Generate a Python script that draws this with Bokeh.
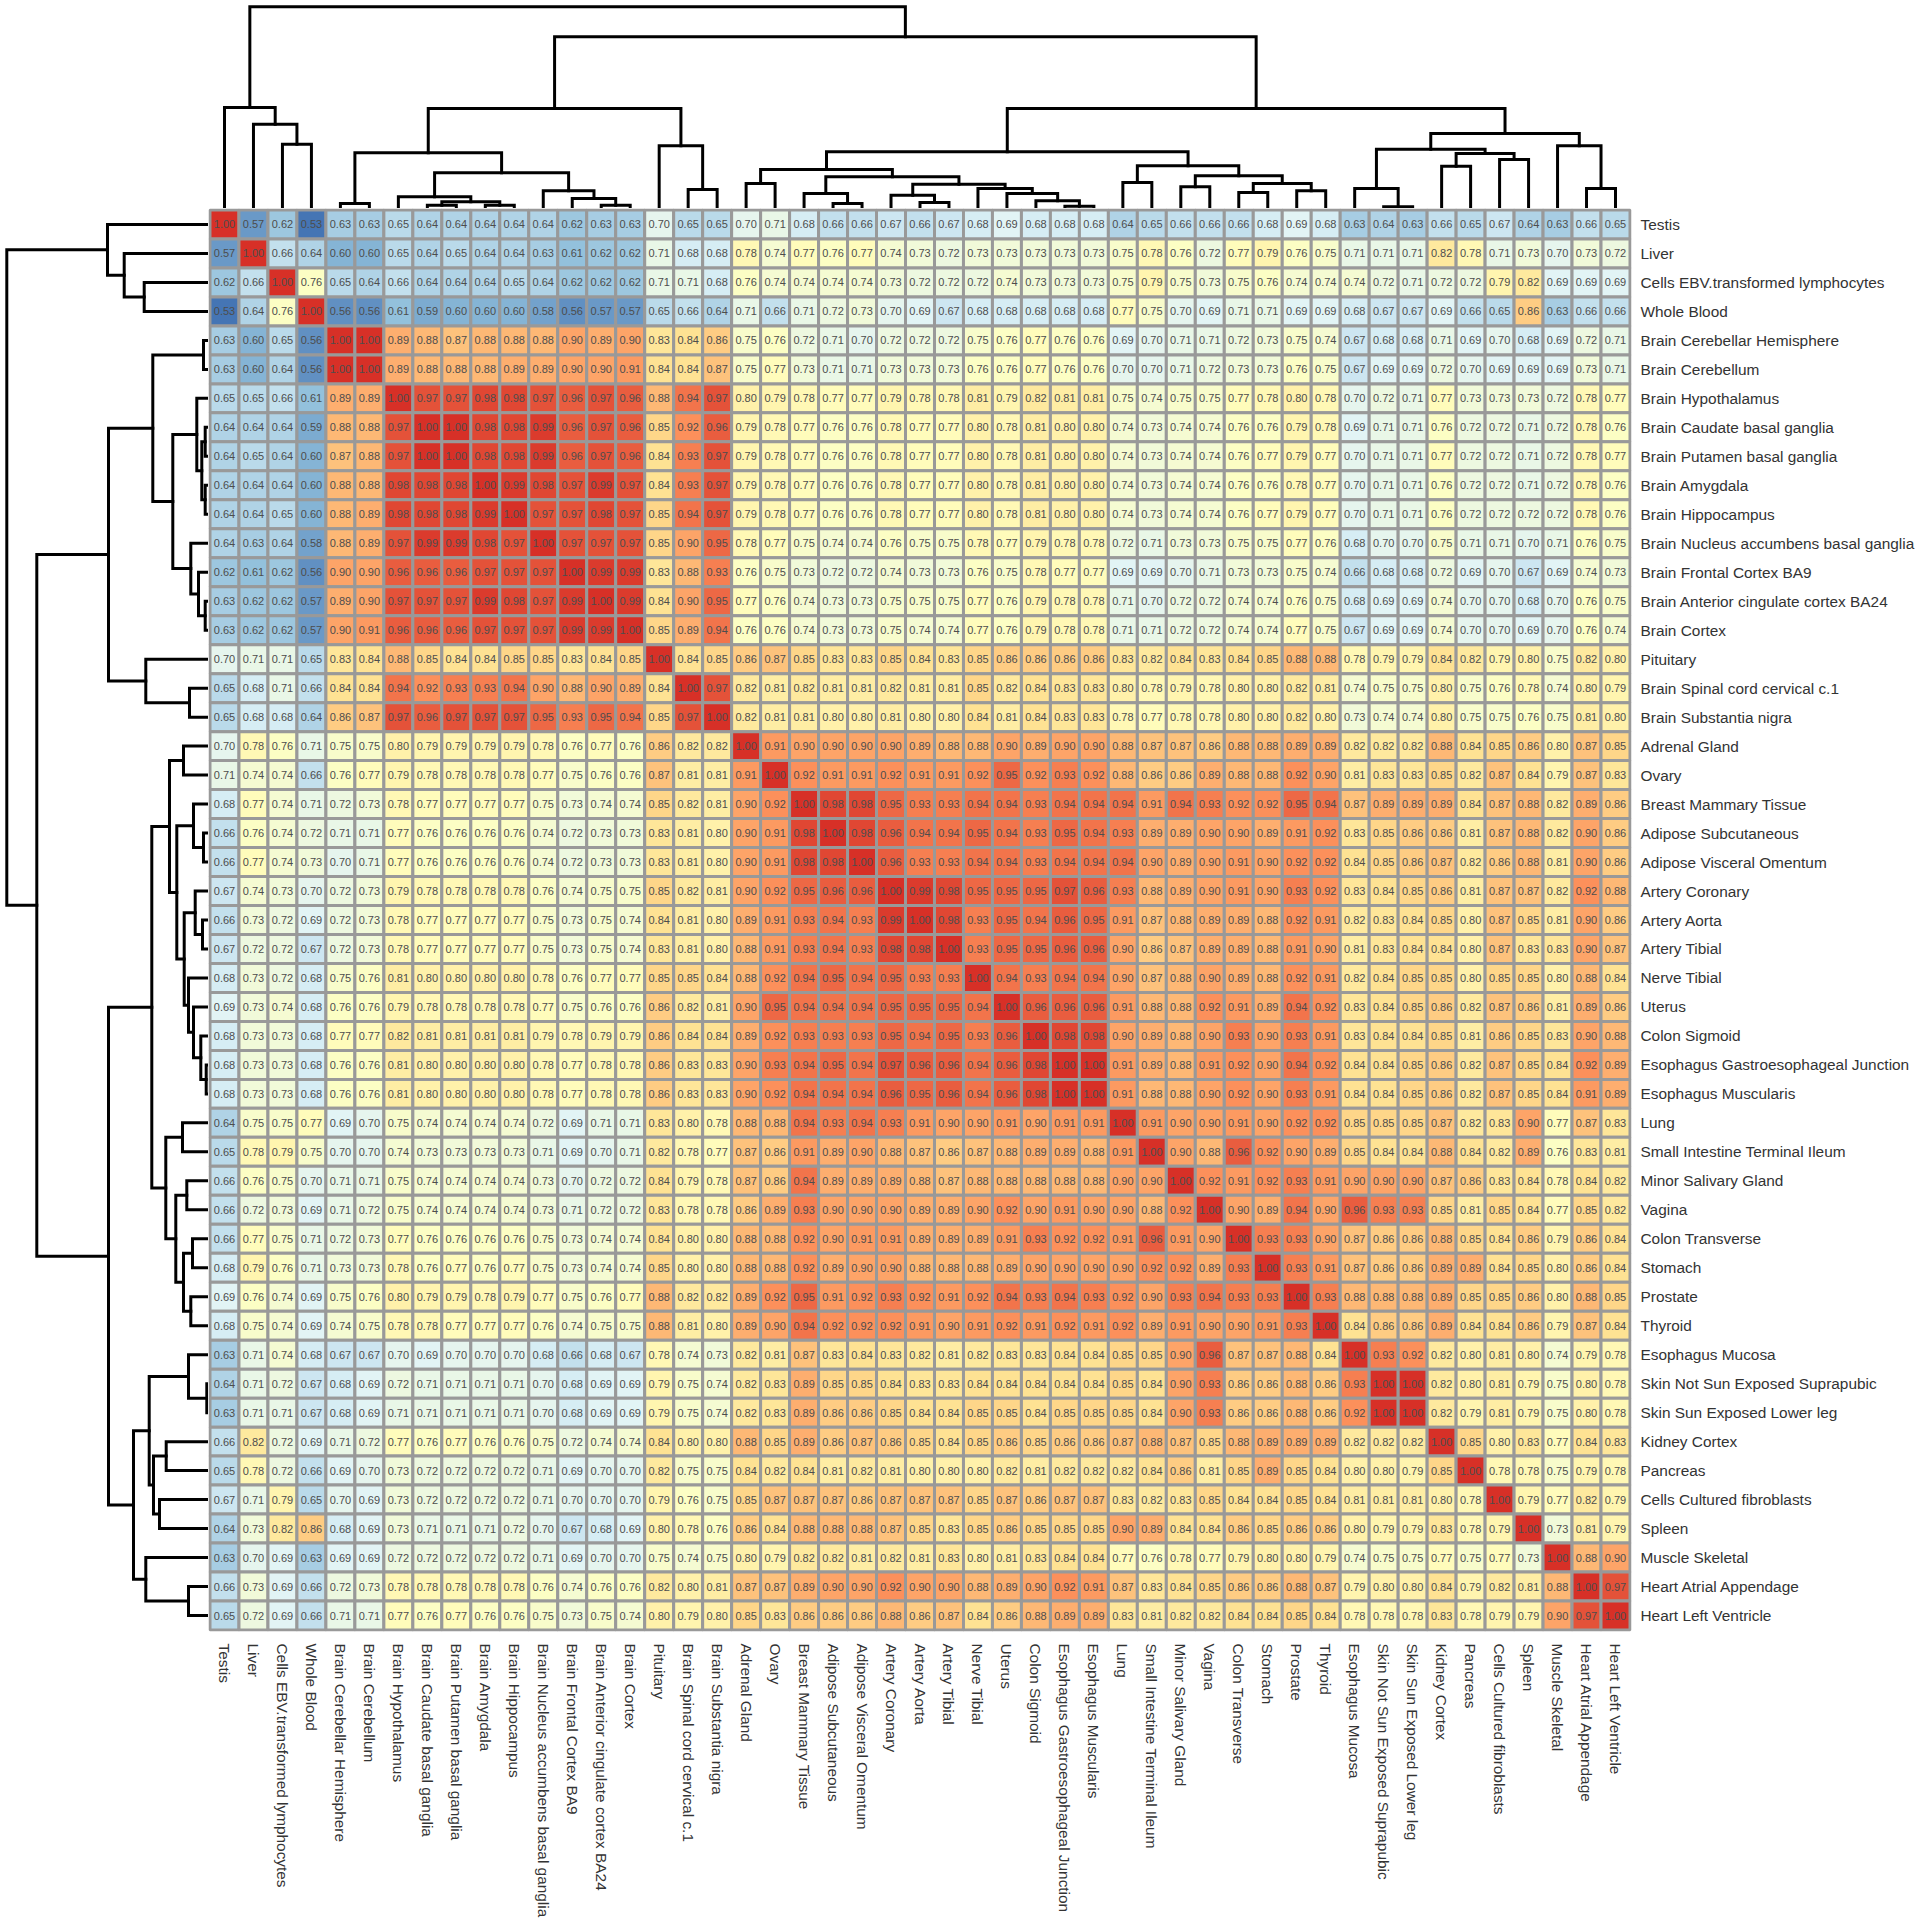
import math
import numpy as np
from bokeh.embed import file_html
from bokeh.resources import INLINE
from bokeh.plotting import figure
from bokeh.layouts import column, row
from bokeh.models import ColumnDataSource, FactorRange, LinearColorMapper, Range1d, Spacer
from bokeh.core.properties import value

tissues = ["Testis", "Liver", "Cells EBV.transformed lymphocytes", "Whole Blood",
    "Brain Cerebellar Hemisphere", "Brain Cerebellum", "Brain Hypothalamus",
    "Brain Caudate basal ganglia", "Brain Putamen basal ganglia", "Brain Amygdala",
    "Brain Hippocampus", "Brain Nucleus accumbens basal ganglia", "Brain Frontal Cortex BA9",
    "Brain Anterior cingulate cortex BA24", "Brain Cortex", "Pituitary",
    "Brain Spinal cord cervical c.1", "Brain Substantia nigra", "Adrenal Gland", "Ovary",
    "Breast Mammary Tissue", "Adipose Subcutaneous", "Adipose Visceral Omentum",
    "Artery Coronary", "Artery Aorta", "Artery Tibial", "Nerve Tibial", "Uterus",
    "Colon Sigmoid", "Esophagus Gastroesophageal Junction", "Esophagus Muscularis", "Lung",
    "Small Intestine Terminal Ileum", "Minor Salivary Gland", "Vagina", "Colon Transverse",
    "Stomach", "Prostate", "Thyroid", "Esophagus Mucosa", "Skin Not Sun Exposed Suprapubic",
    "Skin Sun Exposed Lower leg", "Kidney Cortex", "Pancreas", "Cells Cultured fibroblasts",
    "Spleen", "Muscle Skeletal", "Heart Atrial Appendage", "Heart Left Ventricle"]

# upper triangle of the correlation matrix, each row starting on the diagonal
upper = [
 [1.00,.57,.62,.53,.63,.63,.65,.64,.64,.64,.64,.64,.62,.63,.63,.70,.65,.65,.70,.71,.68,.66,.66,.67,.66,.67,.68,.69,.68,.68,.68,.64,.65,.66,.66,.66,.68,.69,.68,.63,.64,.63,.66,.65,.67,.64,.63,.66,.65],
 [1.00,.66,.64,.60,.60,.65,.64,.65,.64,.64,.63,.61,.62,.62,.71,.68,.68,.78,.74,.77,.76,.77,.74,.73,.72,.73,.73,.73,.73,.73,.75,.78,.76,.72,.77,.79,.76,.75,.71,.71,.71,.82,.78,.71,.73,.70,.73,.72],
 [1.00,.76,.65,.64,.66,.64,.64,.64,.65,.64,.62,.62,.62,.71,.71,.68,.76,.74,.74,.74,.74,.73,.72,.72,.72,.74,.73,.73,.73,.75,.79,.75,.73,.75,.76,.74,.74,.74,.72,.71,.72,.72,.79,.82,.69,.69,.69],
 [1.00,.56,.56,.61,.59,.60,.60,.60,.58,.56,.57,.57,.65,.66,.64,.71,.66,.71,.72,.73,.70,.69,.67,.68,.68,.68,.68,.68,.77,.75,.70,.69,.71,.71,.69,.69,.68,.67,.67,.69,.66,.65,.86,.63,.66,.66],
 [1.00,1.00,.89,.88,.87,.88,.88,.88,.90,.89,.90,.83,.84,.86,.75,.76,.72,.71,.70,.72,.72,.72,.75,.76,.77,.76,.76,.69,.70,.71,.71,.72,.73,.75,.74,.67,.68,.68,.71,.69,.70,.68,.69,.72,.71],
 [1.00,.89,.88,.88,.88,.89,.89,.90,.90,.91,.84,.84,.87,.75,.77,.73,.71,.71,.73,.73,.73,.76,.76,.77,.76,.76,.70,.70,.71,.72,.73,.73,.76,.75,.67,.69,.69,.72,.70,.69,.69,.69,.73,.71],
 [1.00,.97,.97,.98,.98,.97,.96,.97,.96,.88,.94,.97,.80,.79,.78,.77,.77,.79,.78,.78,.81,.79,.82,.81,.81,.75,.74,.75,.75,.77,.78,.80,.78,.70,.72,.71,.77,.73,.73,.73,.72,.78,.77],
 [1.00,1.00,.98,.98,.99,.96,.97,.96,.85,.92,.96,.79,.78,.77,.76,.76,.78,.77,.77,.80,.78,.81,.80,.80,.74,.73,.74,.74,.76,.76,.79,.78,.69,.71,.71,.76,.72,.72,.71,.72,.78,.76],
 [1.00,.98,.98,.99,.96,.97,.96,.84,.93,.97,.79,.78,.77,.76,.76,.78,.77,.77,.80,.78,.81,.80,.80,.74,.73,.74,.74,.76,.77,.79,.77,.70,.71,.71,.77,.72,.72,.71,.72,.78,.77],
 [1.00,.99,.98,.97,.99,.97,.84,.93,.97,.79,.78,.77,.76,.76,.78,.77,.77,.80,.78,.81,.80,.80,.74,.73,.74,.74,.76,.76,.78,.77,.70,.71,.71,.76,.72,.72,.71,.72,.78,.76],
 [1.00,.97,.97,.98,.97,.85,.94,.97,.79,.78,.77,.76,.76,.78,.77,.77,.80,.78,.81,.80,.80,.74,.73,.74,.74,.76,.77,.79,.77,.70,.71,.71,.76,.72,.72,.72,.72,.78,.76],
 [1.00,.97,.97,.97,.85,.90,.95,.78,.77,.75,.74,.74,.76,.75,.75,.78,.77,.79,.78,.78,.72,.71,.73,.73,.75,.75,.77,.76,.68,.70,.70,.75,.71,.71,.70,.71,.76,.75],
 [1.00,.99,.99,.83,.88,.93,.76,.75,.73,.72,.72,.74,.73,.73,.76,.75,.78,.77,.77,.69,.69,.70,.71,.73,.73,.75,.74,.66,.68,.68,.72,.69,.70,.67,.69,.74,.73],
 [1.00,.99,.84,.90,.95,.77,.76,.74,.73,.73,.75,.75,.75,.77,.76,.79,.78,.78,.71,.70,.72,.72,.74,.74,.76,.75,.68,.69,.69,.74,.70,.70,.68,.70,.76,.75],
 [1.00,.85,.89,.94,.76,.76,.74,.73,.73,.75,.74,.74,.77,.76,.79,.78,.78,.71,.71,.72,.72,.74,.74,.77,.75,.67,.69,.69,.74,.70,.70,.69,.70,.76,.74],
 [1.00,.84,.85,.86,.87,.85,.83,.83,.85,.84,.83,.85,.86,.86,.86,.86,.83,.82,.84,.83,.84,.85,.88,.88,.78,.79,.79,.84,.82,.79,.80,.75,.82,.80],
 [1.00,.97,.82,.81,.82,.81,.81,.82,.81,.81,.85,.82,.84,.83,.83,.80,.78,.79,.78,.80,.80,.82,.81,.74,.75,.75,.80,.75,.76,.78,.74,.80,.79],
 [1.00,.82,.81,.81,.80,.80,.81,.80,.80,.84,.81,.84,.83,.83,.78,.77,.78,.78,.80,.80,.82,.80,.73,.74,.74,.80,.75,.75,.76,.75,.81,.80],
 [1.00,.91,.90,.90,.90,.90,.89,.88,.88,.90,.89,.90,.90,.88,.87,.87,.86,.88,.88,.89,.89,.82,.82,.82,.88,.84,.85,.86,.80,.87,.85],
 [1.00,.92,.91,.91,.92,.91,.91,.92,.95,.92,.93,.92,.88,.86,.86,.89,.88,.88,.92,.90,.81,.83,.83,.85,.82,.87,.84,.79,.87,.83],
 [1.00,.98,.98,.95,.93,.93,.94,.94,.93,.94,.94,.94,.91,.94,.93,.92,.92,.95,.94,.87,.89,.89,.89,.84,.87,.88,.82,.89,.86],
 [1.00,.98,.96,.94,.94,.95,.94,.93,.95,.94,.93,.89,.89,.90,.90,.89,.91,.92,.83,.85,.86,.86,.81,.87,.88,.82,.90,.86],
 [1.00,.96,.93,.93,.94,.94,.93,.94,.94,.94,.90,.89,.90,.91,.90,.92,.92,.84,.85,.86,.87,.82,.86,.88,.81,.90,.86],
 [1.00,.99,.98,.95,.95,.95,.97,.96,.93,.88,.89,.90,.91,.90,.93,.92,.83,.84,.85,.86,.81,.87,.87,.82,.92,.88],
 [1.00,.98,.93,.95,.94,.96,.95,.91,.87,.88,.89,.89,.88,.92,.91,.82,.83,.84,.85,.80,.87,.85,.81,.90,.86],
 [1.00,.93,.95,.95,.96,.96,.90,.86,.87,.89,.89,.88,.91,.90,.81,.83,.84,.84,.80,.87,.83,.83,.90,.87],
 [1.00,.94,.93,.94,.94,.90,.87,.88,.90,.89,.88,.92,.91,.82,.84,.85,.85,.80,.85,.85,.80,.88,.84],
 [1.00,.96,.96,.96,.91,.88,.88,.92,.91,.89,.94,.92,.83,.84,.85,.86,.82,.87,.86,.81,.89,.86],
 [1.00,.98,.98,.90,.89,.88,.90,.93,.90,.93,.91,.83,.84,.84,.85,.81,.86,.85,.83,.90,.88],
 [1.00,1.00,.91,.89,.88,.91,.92,.90,.94,.92,.84,.84,.85,.86,.82,.87,.85,.84,.92,.89],
 [1.00,.91,.88,.88,.90,.92,.90,.93,.91,.84,.84,.85,.86,.82,.87,.85,.84,.91,.89],
 [1.00,.91,.90,.90,.91,.90,.92,.92,.85,.85,.85,.87,.82,.83,.90,.77,.87,.83],
 [1.00,.90,.88,.96,.92,.90,.89,.85,.84,.84,.88,.84,.82,.89,.76,.83,.81],
 [1.00,.92,.91,.92,.93,.91,.90,.90,.90,.87,.86,.83,.84,.78,.84,.82],
 [1.00,.90,.89,.94,.90,.96,.93,.93,.85,.81,.85,.84,.77,.85,.82],
 [1.00,.93,.93,.90,.87,.86,.86,.88,.85,.84,.86,.79,.86,.84],
 [1.00,.93,.91,.87,.86,.86,.89,.89,.84,.85,.80,.86,.84],
 [1.00,.93,.88,.88,.88,.89,.85,.85,.86,.80,.88,.85],
 [1.00,.84,.86,.86,.89,.84,.84,.86,.79,.87,.84],
 [1.00,.93,.92,.82,.80,.81,.80,.74,.79,.78],
 [1.00,1.00,.82,.80,.81,.79,.75,.80,.78],
 [1.00,.82,.79,.81,.79,.75,.80,.78],
 [1.00,.85,.80,.83,.77,.84,.83],
 [1.00,.78,.78,.75,.79,.78],
 [1.00,.79,.77,.82,.79],
 [1.00,.73,.81,.79],
 [1.00,.88,.90],
 [1.00,.97],
 [1.00],
]

# cluster tree: a leaf is a tissue index, a node is (left, right, merge height)
cluster_blood = (0, (1, (2, 3, 64.3), 84.3), 101.0)
cluster_cortex = (11, (12, (13, 14, 3.3), 10.0), 17.7)
cluster_core = (6, ((7, 8, 3.3), (9, 10, 3.3), 6.7), 11.7)
cluster_brain = (((4, 5, 5.0), (cluster_core, cluster_cortex, 35.7), 55.7),
                 (15, (16, 17, 19.0), 62.7), 100.0)
cluster_fat = ((18, 19, 25.0), ((20, (21, 22, 5.0), 15.0),
               ((23, (24, 25, 6.0), 13.3),
                (26, (27, (28, (29, 30, 2.3), 7.7), 15.0), 20.0), 24.3), 31.7), 39.0)
cluster_gut = ((31, 32, 26.0), ((33, 34, 21.7), ((35, 36, 16.0), (37, 38, 17.7), 25.0), 32.7), 42.7)
cluster_skin = (((39, (40, 41, 1.7), 20.0), ((42, 43, 42.3), (44, 45, 49.0), 55.0), 59.3),
                (46, (47, 48, 20.0), 62.7), 75.0)
cluster_rest = ((cluster_fat, cluster_gut, 56.7), cluster_skin, 100.0)
tree = (cluster_blood, (cluster_brain, cluster_rest, 171.7), 201.7)

assert [len(r) for r in upper] == list(range(49, 0, -1))
n = len(tissues)
matrix = np.zeros((n, n))
for i, r in enumerate(upper):
    matrix[i, i:] = r
    matrix[i:, i] = r

ramp = ["#4575B4", "#91BFDB", "#E0F3F8", "#FFFFBF", "#FEE090", "#FC8D59", "#D73027"]
rgb = np.array([[int(c[k:k+2], 16) for k in (1, 3, 5)] for c in ramp], float)
t = np.linspace(0, 6, 100)
palette = ["#%02X%02X%02X" % tuple(int(round(np.interp(v, range(7), rgb[:, k]))) for k in range(3)) for v in t]
mapper = LinearColorMapper(palette=palette, low=float(matrix.min()), high=float(matrix.max()))


def walk(node, out):
    """Return (leaf position, height); collect the three-segment bracket of each merge."""
    if isinstance(node, int):
        return node + 0.5, 0.0
    xa, ha = walk(node[0], out)
    xb, hb = walk(node[1], out)
    h = node[2]
    out.append(([xa, xa, xb, xb], [ha, h, h, hb]))
    return (xa + xb) / 2, h


brackets = []
walk(tree, brackets)
pos = [b[0] for b in brackets]
hts = [b[1] for b in brackets]

DENDRO = 208
FRAME = 1423
pad = 0.0517
RIGHT = 287
BOTTOM = 287

# heat map
xs, ys, vals, txt = [], [], [], []
for i in range(n):
    for j in range(n):
        xs.append(tissues[j]); ys.append(tissues[i])
        vals.append(float(matrix[i, j])); txt.append(f"{matrix[i, j]:.2f}")
src = ColumnDataSource(dict(x=xs, y=ys, v=vals, t=txt))

x_fr = FactorRange(factors=tissues, range_padding=pad, range_padding_units="absolute")
y_fr = FactorRange(factors=tissues[::-1], range_padding=pad, range_padding_units="absolute")
heat = figure(output_backend="svg", toolbar_location=None, x_range=x_fr, y_range=y_fr,
              width=FRAME + RIGHT, height=FRAME + BOTTOM, frame_width=FRAME, frame_height=FRAME,
              x_axis_location="below", y_axis_location="right",
              min_border_left=0, min_border_top=0, min_border_right=RIGHT, min_border_bottom=BOTTOM)
heat.rect("x", "y", width=1, height=1, source=src,
          fill_color={"field": "v", "transform": mapper}, line_color="#999999", line_width=3)
heat.text("x", "y", text="t", source=src, text_align="center", text_baseline="middle",
          text_font=value("Liberation Sans"), text_font_size="11px", text_color="#4D4D4D")
heat.outline_line_color = None
heat.grid.visible = False
for ax in (heat.xaxis[0], heat.yaxis[0]):
    ax.axis_line_color = None
    ax.major_tick_line_color = None
    ax.minor_tick_line_color = None
    ax.major_tick_out = 0
    ax.major_tick_in = 0
    ax.major_label_text_font = "Liberation Sans"
    ax.major_label_text_font_size = "15.4px"
    ax.major_label_text_color = "#333333"
heat.xaxis[0].major_label_standoff = 12
heat.yaxis[0].major_label_standoff = 9
heat.xaxis[0].major_label_orientation = -math.pi / 2

# dendrograms
top = figure(output_backend="svg", toolbar_location=None, width=FRAME, height=DENDRO,
             frame_width=FRAME, frame_height=DENDRO,
             x_range=Range1d(-pad, n + pad), y_range=Range1d(0, DENDRO), min_border=0)
top.multi_line(pos, hts, line_color="black", line_width=3, line_join="miter", line_cap="square")
left = figure(output_backend="svg", toolbar_location=None, width=DENDRO, height=FRAME + BOTTOM,
              frame_width=DENDRO, frame_height=FRAME,
              x_range=Range1d(DENDRO, 0), y_range=Range1d(n + pad, -pad),
              min_border_left=0, min_border_right=0, min_border_top=0, min_border_bottom=BOTTOM)
left.multi_line(hts, pos, line_color="black", line_width=3, line_join="miter", line_cap="square")
for f in (top, left):
    f.axis.visible = False
    f.grid.visible = False
    f.outline_line_color = None

page = column(row(Spacer(width=DENDRO, height=DENDRO), top), row(left, heat), spacing=0)
page.styles = {"position": "absolute", "left": "0px", "top": "0px"}

open("out.html", "w").write(file_html(page, INLINE))
